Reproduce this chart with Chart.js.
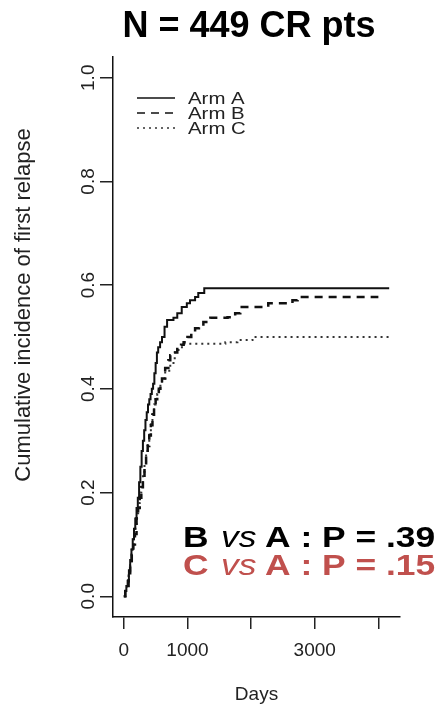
<!DOCTYPE html>
<html>
<head>
<meta charset="utf-8">
<script src="https://cdn.jsdelivr.net/npm/chart.js@4.4.1/dist/chart.umd.min.js"></script>
<style>
  body { margin: 0; background: #fff; }
  canvas { display: block; }
</style>
</head>
<body>
<canvas id="cif-chart" width="443" height="705"></canvas>
<script>
// cumulative incidence of first relapse (days, fraction)
const armADays   = [0, 20, 40, 60, 80, 100, 120, 140, 160, 180, 200, 220, 240, 260, 280, 300, 320, 340, 360, 380, 400, 420, 440, 460, 480, 500, 520, 540,
                    570, 600, 640, 680, 780, 840, 910, 990, 1040, 1120, 1170, 1264, 4170];
const armAValues = [0, 0.01, 0.02, 0.03, 0.05, 0.07, 0.09, 0.11, 0.13, 0.15, 0.17, 0.19, 0.22, 0.25, 0.28, 0.30, 0.32, 0.34, 0.355, 0.37, 0.38, 0.39, 0.40, 0.41, 0.43, 0.45, 0.47, 0.48,
                    0.49, 0.50, 0.52, 0.533, 0.537, 0.546, 0.558, 0.565, 0.571, 0.577, 0.585, 0.594, 0.594];

const armBDays   = [0, 25, 50, 75, 100, 125, 150, 175, 200, 225, 250, 275, 300, 325, 350, 375, 400, 425, 450, 475, 500, 525, 550, 575, 600,
                    650, 700, 730, 790, 840, 900, 940, 1000, 1060, 1120, 1180, 1250, 1360, 1630, 1750, 1830, 2270, 2650, 2730, 4000];
const armBValues = [0, 0.01, 0.02, 0.04, 0.06, 0.08, 0.10, 0.12, 0.15, 0.17, 0.19, 0.21, 0.23, 0.25, 0.27, 0.29, 0.31, 0.33, 0.35, 0.37, 0.38, 0.39, 0.40, 0.41, 0.42,
                    0.44, 0.455, 0.465, 0.47, 0.48, 0.485, 0.49, 0.50, 0.51, 0.517, 0.52, 0.529, 0.537, 0.538, 0.546, 0.558, 0.565, 0.571, 0.577, 0.577];

const armCDays   = [0, 25, 50, 75, 100, 125, 150, 175, 200, 225, 250, 275, 300, 325, 350, 375, 400, 425, 450, 475, 500, 525, 550, 575, 600,
                    650, 730, 800, 860, 940, 1595, 1785, 2022, 4200];
const armCValues = [0, 0.01, 0.02, 0.04, 0.06, 0.09, 0.11, 0.13, 0.16, 0.18, 0.20, 0.22, 0.24, 0.26, 0.28, 0.30, 0.32, 0.34, 0.36, 0.37, 0.38, 0.39, 0.40, 0.41, 0.42,
                    0.435, 0.45, 0.475, 0.48, 0.487, 0.49, 0.494, 0.50, 0.50];

const armNames = ['Arm A', 'Arm B', 'Arm C'];

const yTicks = [0, 0.2, 0.4, 0.6, 0.8, 1.0];
const yTickLabels = ['0.0', '0.2', '0.4', '0.6', '0.8', '1.0'];
const xTicks = [0, 1000, 2000, 3000, 4000];
const xTickLabels = ['0', '1000', '', '3000', ''];

const chartTitle = 'N = 449 CR pts';
const yAxisTitle = 'Cumulative incidence of first relapse';
const comparisons = [
    { arm: 'B', ref: 'A', p: '.39', color: '#000000' },
    { arm: 'C', ref: 'A', p: '.15', color: '#C0504D' }
];

const FONT = '"Liberation Sans", Arial, Helvetica, sans-serif';

function toPoints(days, values) {
    return days.map((d, i) => ({ x: d, y: values[i] }));
}

// text in the source image is a little wider than it is tall
function stretchedText(ctx, txt, x, y, sx) {
    ctx.save();
    ctx.translate(x, y);
    ctx.scale(sx, 1);
    ctx.fillText(txt, 0, 0);
    ctx.restore();
}

const overlayPlugin = {
    id: 'overlay',
    afterDraw(chart) {
        const ctx = chart.ctx;
        ctx.save();

        // title
        ctx.fillStyle = '#000';
        ctx.font = 'bold 36px ' + FONT;
        ctx.textAlign = 'center';
        ctx.textBaseline = 'alphabetic';
        ctx.fillText(chartTitle, 249, 37);

        // y axis title (R puts it a bit above the axis middle here)
        ctx.save();
        ctx.translate(24, 305);
        ctx.rotate(-Math.PI / 2);
        ctx.font = '22px ' + FONT;
        ctx.fillStyle = '#222';
        ctx.textAlign = 'center';
        ctx.textBaseline = 'middle';
        ctx.fillText(yAxisTitle, 0, 0);
        ctx.restore();

        // legend, inside the plot like R's legend()
        ctx.font = '17px ' + FONT;
        ctx.textAlign = 'left';
        ctx.textBaseline = 'middle';
        chart.data.datasets.forEach((ds, i) => {
            const y = 98 + i * 15;
            ctx.strokeStyle = ds.borderColor;
            ctx.lineWidth = 1.5;
            ctx.setLineDash(ds.borderDash || []);
            ctx.beginPath();
            ctx.moveTo(137, y);
            ctx.lineTo(175, y);
            ctx.stroke();
            ctx.setLineDash([]);
            ctx.fillStyle = '#222';
            stretchedText(ctx, ds.label, 188, y + 1, 1.2);
        });

        // p-values
        ctx.textAlign = 'left';
        ctx.textBaseline = 'alphabetic';
        comparisons.forEach((c, i) => {
            const base = 547 + i * 28;
            const pieces = [
                [c.arm, 'bold 30px ', 183],
                ['vs', 'italic 30px ', 221],
                [c.ref + ' : P = ' + c.p, 'bold 30px ', 265]
            ];
            ctx.fillStyle = c.color;
            pieces.forEach(([txt, f, x]) => {
                ctx.font = f + FONT;
                stretchedText(ctx, txt, x, base, 1.18);
            });
        });

        ctx.restore();
    }
};

new Chart(document.getElementById('cif-chart'), {
    type: 'line',
    data: {
        datasets: [
            {
                label: armNames[0],
                data: toPoints(armADays, armAValues),
                borderColor: '#111',
                borderWidth: 2,
                stepped: true
            },
            {
                label: armNames[1],
                data: toPoints(armBDays, armBValues),
                borderColor: '#111',
                borderWidth: 2.5,
                borderDash: [8, 6],
                stepped: true
            },
            {
                label: armNames[2],
                data: toPoints(armCDays, armCValues),
                borderColor: '#333',
                borderWidth: 2,
                borderDash: [2, 4],
                stepped: true
            }
        ]
    },
    options: {
        responsive: false,
        animation: false,
        layout: { padding: { top: 57, right: 43, left: 0, bottom: 0 } },
        elements: { point: { radius: 0 } },
        plugins: {
            legend: { display: false },
            tooltip: { enabled: false }
        },
        scales: {
            x: {
                type: 'linear',
                min: -170,
                max: 4340,
                afterBuildTicks: s => { s.ticks = xTicks.map(v => ({ value: v })); },
                afterFit: s => { s.height = 88; },
                ticks: {
                    autoSkip: false,
                    maxRotation: 0,
                    padding: 10,
                    color: '#222',
                    font: { family: FONT, size: 19 },
                    callback: (v, i) => xTickLabels[i]
                },
                grid: { drawOnChartArea: false, drawTicks: true, tickLength: 12, color: '#222', lineWidth: 1.5 },
                border: { display: true, color: '#111', width: 1.5 },
                title: {
                    display: true,
                    text: 'Days',
                    color: '#222',
                    font: { family: FONT, size: 19 },
                    padding: { top: 0, bottom: -1 }
                }
            },
            y: {
                min: -0.04,
                max: 1.04,
                afterBuildTicks: s => { s.ticks = yTicks.map(v => ({ value: v })); },
                afterFit: s => { s.width = 113; },
                ticks: {
                    autoSkip: false,
                    minRotation: 90,
                    maxRotation: 90,
                    crossAlign: 'center',
                    padding: -2,
                    color: '#222',
                    font: { family: FONT, size: 19 },
                    callback: (v, i) => yTickLabels[i]
                },
                grid: { drawOnChartArea: false, drawTicks: true, tickLength: 13, color: '#222', lineWidth: 1.5 },
                border: { display: true, color: '#111', width: 1.5 },
                title: { display: false }
            }
        }
    },
    plugins: [overlayPlugin]
});
</script>
</body>
</html>
